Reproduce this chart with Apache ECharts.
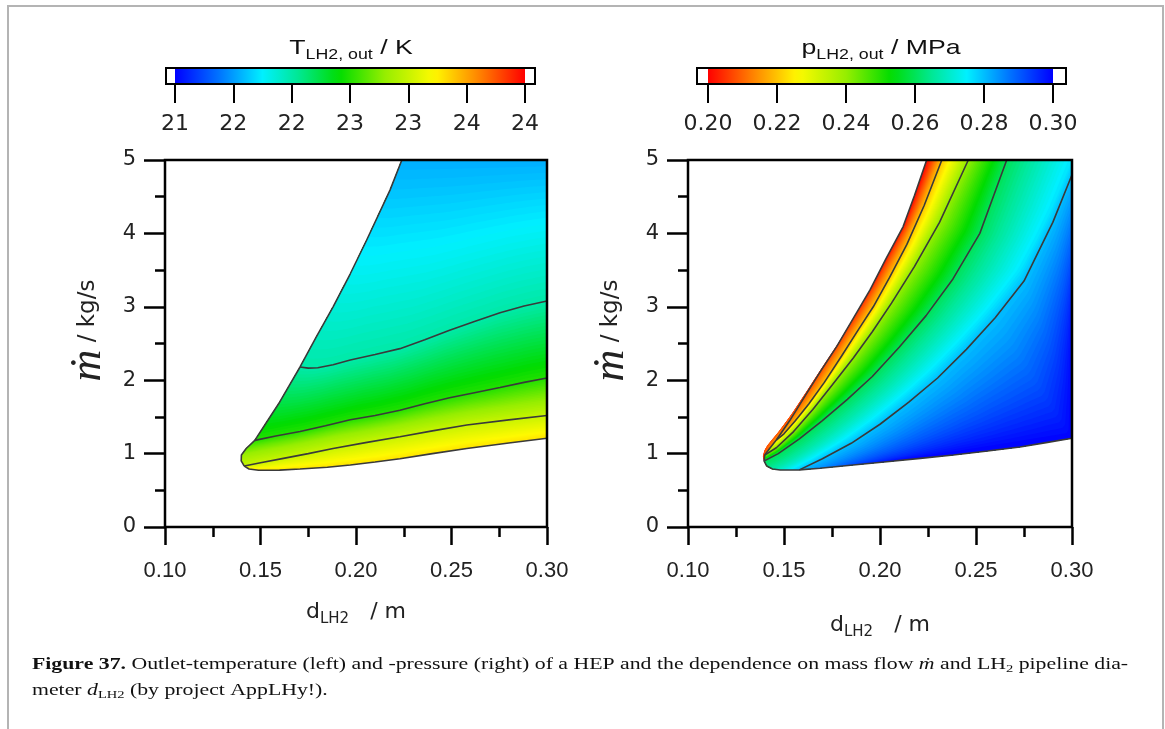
<!DOCTYPE html>
<html>
<head>
<meta charset="utf-8">
<title>Outlet temperature and pressure of a HEP</title>
<script src="https://cdn.jsdelivr.net/npm/echarts@6.0.0/dist/echarts.min.js"></script>
<style>
  html, body { margin: 0; padding: 0; background: #fff; }
  #chart { width: 1165px; height: 729px; }
</style>
</head>
<body>
<div id="chart"></div>
<script>
// tick labels
const diamTickLabels = ['0.10', '0.15', '0.20', '0.25', '0.30'];
const massTickLabels = ['0', '1', '2', '3', '4', '5'];
const tempBarLabels = ['21', '22', '22', '23', '23', '24', '24'];
const presBarLabels = ['0.20', '0.22', '0.24', '0.26', '0.28', '0.30'];

// left panel: outlet temperature, points are [d_LH2 in m, mass flow in kg/s]
const tempUpperEdge = [[0.1415, 0.83], [0.1399, 0.90], [0.1400, 0.98], [0.1425, 1.07], [0.147, 1.18], [0.153, 1.42], [0.160, 1.70], [0.1707, 2.18], [0.179, 2.58], [0.188, 3.0], [0.197, 3.45], [0.2056, 3.91], [0.2178, 4.59], [0.224, 5.0]];
const tempLowerEdge = [[0.1415, 0.83], [0.1440, 0.790], [0.1490, 0.773], [0.160, 0.775], [0.1707, 0.790], [0.185, 0.815], [0.197, 0.845], [0.210, 0.885], [0.223, 0.930], [0.240, 1.00], [0.258, 1.07], [0.280, 1.145], [0.30, 1.21]];
const tempLine22 = [[0.1707, 2.18], [0.175, 2.165], [0.180, 2.17], [0.188, 2.21], [0.197, 2.275], [0.210, 2.35], [0.223, 2.43], [0.236, 2.55], [0.249, 2.68], [0.262, 2.80], [0.2754, 2.92], [0.288, 3.01], [0.30, 3.08]];
const tempLine225 = [[0.147, 1.18], [0.158, 1.24], [0.1707, 1.30], [0.184, 1.38], [0.197, 1.46], [0.210, 1.52], [0.223, 1.59], [0.236, 1.68], [0.249, 1.76], [0.262, 1.83], [0.2754, 1.90], [0.288, 1.97], [0.30, 2.03]];
const tempLine23 = [[0.1415, 0.83], [0.150, 0.875], [0.162, 0.935], [0.175, 1.00], [0.188, 1.07], [0.205, 1.15], [0.223, 1.23], [0.240, 1.31], [0.258, 1.39], [0.280, 1.46], [0.30, 1.52]];
const tempLevels = [22.0, 22.5, 23.0];
const tempAtTop = 21.55;       // along m = 5
const tempAtLowerEdge = 23.3;  // along the lower outline

// right panel: outlet pressure
const presUpperEdge = [[0.1410, 0.83], [0.1396, 0.90], [0.1400, 0.98], [0.1425, 1.07], [0.146, 1.185], [0.153, 1.45], [0.1618, 1.82], [0.1695, 2.14], [0.1775, 2.46], [0.186, 2.84], [0.1948, 3.23], [0.203, 3.65], [0.212, 4.09], [0.218, 4.52], [0.2243, 5.0]];
const presLowerEdge = [[0.1410, 0.83], [0.1440, 0.790], [0.148, 0.777], [0.158, 0.778], [0.1688, 0.80], [0.186, 0.845], [0.2035, 0.89], [0.221, 0.935], [0.2382, 0.98], [0.256, 1.035], [0.2729, 1.09], [0.2865, 1.15], [0.30, 1.21]];
const presLine22 = [[0.146, 1.185], [0.150, 1.27], [0.156, 1.45], [0.163, 1.68], [0.171, 1.97], [0.180, 2.33], [0.189, 2.70], [0.1965, 3.0], [0.205, 3.40], [0.214, 3.85], [0.223, 4.38], [0.2322, 5.0]];
const presLine24 = [[0.1400, 0.98], [0.146, 1.08], [0.155, 1.30], [0.165, 1.60], [0.175, 1.93], [0.186, 2.30], [0.196, 2.66], [0.206, 3.05], [0.218, 3.55], [0.231, 4.15], [0.246, 5.0]];
const presLine26 = [[0.1396, 0.90], [0.147, 1.0], [0.158, 1.20], [0.170, 1.45], [0.183, 1.74], [0.196, 2.05], [0.210, 2.45], [0.224, 2.88], [0.238, 3.38], [0.252, 4.0], [0.266, 5.0]];
const presLine28 = [[0.158, 0.778], [0.170, 0.93], [0.185, 1.14], [0.200, 1.40], [0.215, 1.70], [0.230, 2.03], [0.245, 2.42], [0.260, 2.85], [0.275, 3.35], [0.290, 4.15], [0.30, 4.8]];
const presDeepest = [[0.2035, 0.89], [0.30, 1.21], [0.30, 2.9]]; // darkest blue along the lower right
const presLevels = [0.22, 0.24, 0.26, 0.28];
const presAtUpperEdge = 0.20;
const presAtDeepest = 0.30;

// rainbow colour scale, 0 = blue, 1 = red
const jetStops = [
  [0.00, [0, 0, 255]],
  [0.12, [0, 110, 255]],
  [0.25, [0, 240, 255]],
  [0.35, [0, 232, 150]],
  [0.47, [0, 220, 0]],
  [0.60, [150, 238, 0]],
  [0.74, [255, 250, 0]],
  [0.86, [255, 140, 0]],
  [1.00, [255, 0, 0]]
];
function jet(f) {
  f = Math.max(0, Math.min(1, f));
  for (let i = 1; i < jetStops.length; i++) {
    const [f1, c1] = jetStops[i];
    if (f <= f1) {
      const [f0, c0] = jetStops[i - 1];
      const t = (f - f0) / (f1 - f0);
      return 'rgb(' + c0.map((c, k) => Math.round(c + (c1[k] - c) * t)).join(',') + ')';
    }
  }
  return 'rgb(255,0,0)';
}
const tempFrac = v => (v - 21) / 3;
const presFrac = v => 1 - (v - 0.2) / 0.1;

const corner = [0.30, 5];
const last = a => a[a.length - 1];
const dist = (p, q) => Math.hypot(q[0] - p[0], q[1] - p[1]);
const mix = (p, q, t) => [p[0] + (q[0] - p[0]) * t, p[1] + (q[1] - p[1]) * t];

function findIndex(loop, p) {
  let best = 0, bd = Infinity;
  loop.forEach((q, i) => {
    const d = Math.abs(q[0] - p[0]) * 50 + Math.abs(q[1] - p[1]);
    if (d < bd) { bd = d; best = i; }
  });
  return best;
}

// outline of the valid region, clockwise, with every contour end on it
const tempLoop = tempUpperEdge.concat(
  [corner, last(tempLine22), last(tempLine225), last(tempLine23)],
  tempLowerEdge.slice(1).reverse()
);
const presLoop = presUpperEdge.concat(
  [last(presLine22), last(presLine24), last(presLine26), corner, last(presLine28), last(presDeepest)],
  presLowerEdge.slice(1).reverse()
);

// contour chains, from one side of the region to the other
const tempChain = [
  { pts: tempLowerEdge, v: tempAtLowerEdge },
  { pts: tempLine23, v: tempLevels[2] },
  { pts: tempLine225, v: tempLevels[1] },
  { pts: tempLine22, v: tempLevels[0] },
  { pts: [last(tempUpperEdge), corner], v: tempAtTop }
];
const presChain = [
  { pts: presUpperEdge, v: presAtUpperEdge },
  { pts: presLine22, v: presLevels[0] },
  { pts: presLine24, v: presLevels[1] },
  { pts: presLine26, v: presLevels[2] },
  { pts: presLine28, v: presLevels[3] },
  { pts: presDeepest, v: presAtDeepest }
];

function resample(px, n) {
  if (px.length === 1) return Array.from({ length: n }, () => px[0]);
  const cum = [0];
  for (let i = 1; i < px.length; i++) cum.push(cum[i - 1] + dist(px[i - 1], px[i]));
  const total = last(cum);
  const out = [];
  let j = 0;
  for (let k = 0; k < n; k++) {
    const target = total * k / (n - 1);
    while (j < px.length - 2 && cum[j + 1] < target) j++;
    const seg = cum[j + 1] - cum[j] || 1;
    out.push(mix(px[j], px[j + 1], Math.min(1, (target - cum[j]) / seg)));
  }
  return out;
}

// fills the region between neighbouring contours with thin strips
function fieldRenderer(loop, chain, dir, frac, steps) {
  return function (params, api) {
    const loopPx = loop.map(p => api.coord(p));
    const n = loopPx.length;
    const arc = [0];
    for (let i = 1; i < n; i++) arc.push(arc[i - 1] + dist(loopPx[i - 1], loopPx[i]));
    const T = last(arc) + dist(loopPx[n - 1], loopPx[0]);
    const wrap = a => ((a % T) + T) % T;
    const arcOf = p => arc[findIndex(loop, p)];
    const shortest = (a, b) => { const d = wrap(b - a); return d > T / 2 ? d - T : d; };
    const pointAt = a => {
      a = wrap(a);
      for (let i = 0; i < n; i++) {
        const s1 = i + 1 < n ? arc[i + 1] : T;
        if (a <= s1) return mix(loopPx[i], loopPx[(i + 1) % n], s1 > arc[i] ? (a - arc[i]) / (s1 - arc[i]) : 0);
      }
      return loopPx[0];
    };
    const between = (from, to) => {
      const span = wrap((to - from) * dir);
      const rel = [];
      arc.forEach((s, i) => {
        const r = wrap((s - from) * dir);
        if (r > 1e-6 && r < span - 1e-6) rel.push([r, i]);
      });
      rel.sort((a, b) => a[0] - b[0]);
      return rel.map(r => loopPx[r[1]]);
    };

    const N = 60;
    const children = [{
      type: 'polygon', shape: { points: loopPx },
      style: { fill: jet(frac(chain[0].v + (chain[1].v - chain[0].v) * 0.5 / steps)) }
    }];
    for (let c = 0; c < chain.length - 1; c++) {
      const A = chain[c], B = chain[c + 1];
      const ra = resample(A.pts.map(p => api.coord(p)), N);
      const rb = resample(B.pts.map(p => api.coord(p)), N);
      const sa = arcOf(A.pts[0]), ea = arcOf(last(A.pts));
      const dS = shortest(sa, arcOf(B.pts[0]));
      const dE = shortest(ea, arcOf(last(B.pts)));
      for (let k = (c === 0 ? 1 : 0); k < steps; k++) {
        const t = k / steps;
        const q = ra.map((p, i) => mix(p, rb[i], t));
        const ps = pointAt(sa + dS * t), pe = pointAt(ea + dE * t);
        const c0 = [ps[0] - q[0][0], ps[1] - q[0][1]];
        const c1 = [pe[0] - q[N - 1][0], pe[1] - q[N - 1][1]];
        const line = q.map((p, i) => {
          const u = i / (N - 1);
          return [p[0] + c0[0] * (1 - u) + c1[0] * u, p[1] + c0[1] * (1 - u) + c1[1] * u];
        });
        const v = A.v + (B.v - A.v) * (k + 0.5) / steps;
        children.push({
          type: 'polygon',
          shape: { points: line.concat(between(wrap(ea + dE * t), wrap(sa + dS * t))) },
          style: { fill: jet(frac(v)) }
        });
      }
    }
    return { type: 'group', children: children, silent: true };
  };
}

function barRenderer(lo, hi, frac, padL, padR) {
  return function (params, api) {
    const a = api.coord([lo, 0]);
    const b = api.coord([hi, 1]);
    const top = b[1], h = a[1] - b[1];
    const stops = [];
    for (let i = 0; i <= 40; i++) stops.push({ offset: i / 40, color: jet(frac(lo + (hi - lo) * i / 40)) });
    return {
      type: 'group',
      children: [
        { type: 'rect', shape: { x: a[0] - padL, y: top, width: b[0] - a[0] + padL + padR, height: h }, style: { fill: '#fff', stroke: '#000', lineWidth: 2 } },
        { type: 'rect', shape: { x: a[0], y: top + 1, width: b[0] - a[0], height: h - 2 }, style: { fill: { type: 'linear', x: 0, y: 0, x2: 1, y2: 0, colorStops: stops } } }
      ]
    };
  };
}

function curve(data, idx) {
  return {
    type: 'line', xAxisIndex: idx, yAxisIndex: idx, data: data,
    showSymbol: false, symbol: 'none', silent: true, z: 3,
    lineStyle: { color: '#3a3a3a', width: 1.6 }
  };
}

const tickStyle = { color: '#000', width: 2.5 };
const xNameRich = {
  d: { fontFamily: 'DejaVu Sans', fontSize: 22, color: '#222' },
  s: { fontFamily: 'DejaVu Sans', fontSize: 15, color: '#222', padding: [14, 0, 0, 0] },
  u: { fontFamily: 'DejaVu Sans', fontSize: 22, color: '#222' }
};

function plotX(gi, nameGap) {
  return {
    gridIndex: gi, type: 'value', min: 0.10, max: 0.30, interval: 0.05,
    axisLine: { show: false },
    axisTick: { show: true, inside: false, length: 18, lineStyle: tickStyle },
    minorTick: { show: true, splitNumber: 2, length: 10, lineStyle: tickStyle },
    splitLine: { show: false },
    axisLabel: {
      margin: 33, fontFamily: 'Liberation Sans', fontSize: 22, color: '#222',
      formatter: v => diamTickLabels[Math.round((v - 0.10) / 0.05)]
    },
    name: '{d|d}{s|LH2}{u|   / m}', nameLocation: 'middle', nameGap: nameGap,
    nameTextStyle: { rich: xNameRich }
  };
}

function plotY(gi) {
  return {
    gridIndex: gi, type: 'value', min: 0, max: 5, interval: 1,
    axisLine: { show: false },
    axisTick: { show: true, inside: false, length: 21, lineStyle: tickStyle },
    minorTick: { show: true, splitNumber: 2, length: 10, lineStyle: tickStyle },
    splitLine: { show: false },
    axisLabel: {
      margin: 29, fontFamily: 'DejaVu Sans', fontSize: 21, color: '#222',
      formatter: v => massTickLabels[Math.round(v)]
    },
    name: '{m|ṁ}{u| / kg/s}', nameLocation: 'middle', nameRotate: 90, nameGap: 55,
    nameTextStyle: {
      rich: {
        m: { fontFamily: 'Liberation Serif, DejaVu Serif', fontStyle: 'italic', fontSize: 44, color: '#222', padding: [0, 0, 0, 26] },
        u: { fontFamily: 'DejaVu Sans', fontSize: 23, color: '#222' }
      }
    }
  };
}

function barX(gi, lo, hi, step, labels) {
  return {
    gridIndex: gi, type: 'value', min: lo, max: hi, interval: step,
    axisLine: { show: false },
    axisTick: { show: true, inside: false, length: 19, lineStyle: { color: '#000', width: 2 } },
    splitLine: { show: false },
    axisLabel: {
      margin: 29, fontFamily: 'DejaVu Sans', fontSize: 22, color: '#222',
      formatter: v => labels[Math.round((v - lo) / step)]
    }
  };
}
const hiddenY = gi => ({ gridIndex: gi, type: 'value', min: 0, max: 1, show: false });

const titleRich = {
  a: { fontFamily: 'Liberation Sans', fontSize: 21, fill: '#111' },
  s: { fontFamily: 'Liberation Sans', fontSize: 14, fill: '#111', padding: [14, 0, 0, 0] }
};
const capRich = {
  b: { fontFamily: 'Liberation Serif', fontWeight: 'bold', fontSize: 16.5, fill: '#111', lineHeight: 26 },
  n: { fontFamily: 'Liberation Serif', fontSize: 16.5, fill: '#111', lineHeight: 26 },
  i: { fontFamily: 'Liberation Serif', fontStyle: 'italic', fontSize: 16.5, fill: '#111', lineHeight: 26 },
  s: { fontFamily: 'Liberation Serif', fontSize: 11, fill: '#111', lineHeight: 26, padding: [8, 0, 0, 0] }
};

const chart = echarts.init(document.getElementById('chart'));
chart.setOption({
  animation: false,
  backgroundColor: '#fff',
  grid: [
    { left: 165, top: 160, width: 382, height: 367, show: true, borderColor: '#000', borderWidth: 2.5, z: 10 },
    { left: 688, top: 160, width: 384, height: 367, show: true, borderColor: '#000', borderWidth: 2.5, z: 10 },
    { left: 175, top: 68, width: 350, height: 16 },
    { left: 708, top: 68, width: 345, height: 16 }
  ],
  xAxis: [
    plotX(0, 71),
    plotX(1, 84),
    barX(2, 21, 24, 0.5, tempBarLabels),
    barX(3, 0.20, 0.30, 0.02, presBarLabels)
  ],
  yAxis: [plotY(0), plotY(1), hiddenY(2), hiddenY(3)],
  graphic: [
    { type: 'rect', shape: { x: 8, y: 6, width: 1155, height: 760 }, style: { fill: 'none', stroke: '#b4b4b4', lineWidth: 2 }, silent: true },
    { type: 'text', x: 351, y: 48, scaleX: 1.27, style: { text: '{a|T}{s|LH2, out}{a| / K}', align: 'center', verticalAlign: 'middle', rich: titleRich } },
    { type: 'text', x: 881, y: 48, scaleX: 1.27, style: { text: '{a|p}{s|LH2, out}{a| / MPa}', align: 'center', verticalAlign: 'middle', rich: titleRich } },
    {
      type: 'text', x: 32, y: 652, scaleX: 1.32,
      style: {
        text: '{b|Figure 37.}{n| Outlet-temperature (left) and -pressure (right) of a HEP and the dependence on mass flow }{i|ṁ}{n| and LH}{s|2}{n| pipeline dia-}\n{n|meter }{i|d}{s|LH2}{n| (by project AppLHy!).}',
        align: 'left', verticalAlign: 'top', rich: capRich
      }
    }
  ],
  series: [
    { type: 'custom', xAxisIndex: 0, yAxisIndex: 0, data: [[0.2, 2]], renderItem: fieldRenderer(tempLoop, tempChain, -1, tempFrac, 22), z: 1 },
    curve(tempUpperEdge, 0),
    curve(tempLowerEdge, 0),
    curve(tempLine22, 0),
    curve(tempLine225, 0),
    curve(tempLine23, 0),
    { type: 'custom', xAxisIndex: 1, yAxisIndex: 1, data: [[0.2, 2]], renderItem: fieldRenderer(presLoop, presChain, 1, presFrac, 22), z: 1 },
    curve(presUpperEdge, 1),
    curve(presLowerEdge, 1),
    curve(presLine22, 1),
    curve(presLine24, 1),
    curve(presLine26, 1),
    curve(presLine28, 1),
    { type: 'custom', xAxisIndex: 2, yAxisIndex: 2, data: [[21, 0]], renderItem: barRenderer(21, 24, tempFrac, 9, 10) },
    { type: 'custom', xAxisIndex: 3, yAxisIndex: 3, data: [[0.2, 0]], renderItem: barRenderer(0.20, 0.30, presFrac, 11, 13) }
  ]
});
</script>
</body>
</html>
